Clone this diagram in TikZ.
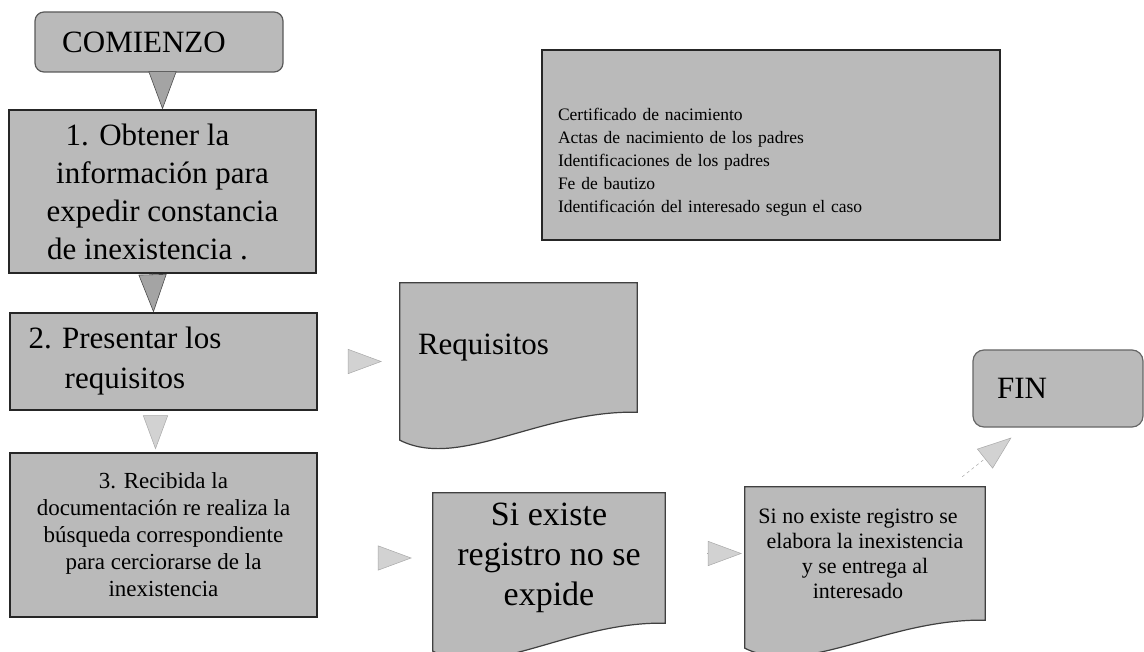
\documentclass[tikz,border=0pt]{standalone}
\usepackage{fontspec}
\setmainfont{Liberation Serif}
\usetikzlibrary{shapes,arrows,calc,arrows.meta,backgrounds}

\definecolor{grisfondo}{HTML}{BABABA}
\definecolor{grisflecha}{HTML}{A4A4A4}
\definecolor{grisclaro}{HTML}{D2D2D2}

\newcommand{\hoja}[1]{%
  \begin{scope}[on background layer]
    \filldraw[fill=grisfondo, draw=black!75, line width=1.2pt]
      (#1.north west) -- (#1.north east) -- (#1.south east)
      .. controls ($(#1.south east)!0.41!(#1.south west)+(0,-2)$)
      and ($(#1.south west)!0.25!(#1.south east)+(0,58)$) ..
      ($(#1.south west)+(0,28)$) -- cycle;
  \end{scope}}

\begin{document}
\begin{tikzpicture}[x=1pt, y=-1pt,
  caja/.style={draw=black!85, line width=1.2pt, fill=grisfondo, inner sep=0pt},
  inicio/.style={caja, draw=black!65, rounded corners=9pt},
  hojatexto/.style={inner sep=0pt},
  grande/.style={font=\fontsize{31}{38}\selectfont},
  flecha/.style={-{Triangle[length=38pt,width=28pt,fill=grisflecha]}, color=black!70, line width=0.6pt},
  flechaclara/.style={-{Triangle[length=34pt,width=25pt,fill=grisclaro]}, color=grisclaro!80!black, line width=0.5pt}]
  \useasboundingbox (0,0) rectangle (1144,652);
  \draw (159,42) node[inicio, grande, minimum width=248pt, minimum height=60pt] (comienzo) {COMIENZO\hspace*{30pt}};
  \draw (162.5,191.5) node[caja, grande, minimum width=307pt, minimum height=163pt, align=center] (paso1)
    {1. Obtener la\hspace*{30pt}\\información para\hspace*{30pt}\\expedir constancia\hspace*{30pt}\\de inexistencia .\hspace*{30pt}};
  \draw (163.5,361.5) node[caja, font=\fontsize{31}{40}\selectfont, minimum width=307pt, minimum height=97pt, align=center] (paso2)
    {2. Presentar los\hspace*{77pt}\\requisitos\hspace*{77pt}};
  \draw (163.5,535) node[caja, font=\fontsize{23}{27}\selectfont, minimum width=307pt, minimum height=164pt, align=center] (paso3)
    {3. Recibida la\\documentación re realiza la\\búsqueda correspondiente\\para cerciorarse de la\\inexistencia};
  \draw (771,145) node[caja, font=\fontsize{17.5}{23}\selectfont, text width=426pt, inner xsep=16pt, minimum height=190pt, align=left] (lista)
    {\rule{0pt}{47pt}Certificado de nacimiento\\Actas de nacimiento de los padres\\Identificaciones de los padres\\Fe de bautizo\\Identificación del interesado segun el caso};
  \draw (518.5,347.5) node[hojatexto, grande, minimum width=237pt, minimum height=129pt] (requisitos) {Requisitos\hspace*{70pt}};
  \draw (549,558) node[hojatexto, font=\fontsize{34}{40}\selectfont, minimum width=232pt, minimum height=130pt, align=center] (existe)
    {Si existe\\registro no se\\expide};
  \draw (865,553.5) node[hojatexto, font=\fontsize{22}{25}\selectfont, minimum width=240pt, minimum height=133pt, align=center] (noexiste)
    {Si no existe registro se\hspace*{14pt}\\elabora la inexistencia\hspace*{14pt}\\y se entrega al\hspace*{14pt}\\interesado\hspace*{14pt}};
  \draw (1058,388.5) node[inicio, grande, draw=black!60, rounded corners=11pt, minimum width=170pt, minimum height=77pt] (fin) {FIN\hspace*{72pt}};
  \hoja{requisitos}
  \hoja{existe}
  \hoja{noexiste}
  \path[flecha] (paso1.north |- comienzo.south) edge (paso1.north)
                ([xshift=-10pt]paso1.south) edge ([xshift=-10pt]paso2.north);
  \path[flechaclara] ([xshift=-8pt]paso2.south) edge[shorten <=7pt, shorten >=3pt] ([xshift=-8pt]paso3.north)
                     (paso2.east) edge[shorten <=31pt, shorten >=18pt] (paso2.east -| requisitos.west)
                     (paso3.east |- existe.west) edge[shorten <=60pt, shorten >=21pt] (existe.west)
                     (existe.east |- noexiste.west) edge[shorten <=42pt, shorten >=3pt] (noexiste.west);
  \path[flechaclara, dashed] ($(noexiste.north east)+(-23,-10)$) edge ($(fin.south west)+(39,10)$);
\end{tikzpicture}
\end{document}
